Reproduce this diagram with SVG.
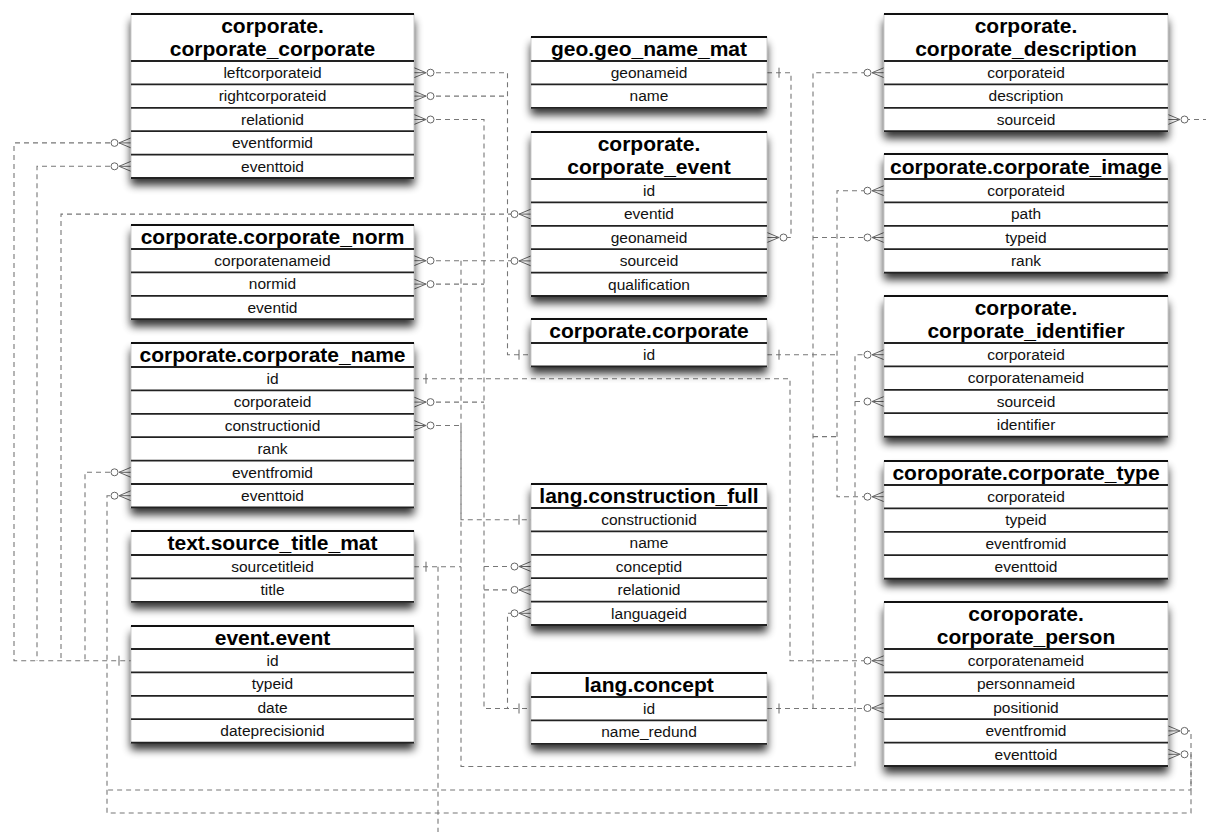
<svg xmlns="http://www.w3.org/2000/svg" xmlns:xlink="http://www.w3.org/1999/xlink" width="1206" height="832" viewBox="0 0 1206 832">
<style>
.box{fill:#fff;stroke:#aaa;stroke-width:0.6;filter:url(#sh)}
.sep{stroke:#222;stroke-width:1.8}
.top{stroke:#111;stroke-width:1.8}
.hd{font-family:"Liberation Sans",Arial,sans-serif;font-size:21px;font-weight:bold;fill:#000;text-anchor:middle}
.rw{font-family:"Liberation Sans",Arial,sans-serif;font-size:15.5px;fill:#111;text-anchor:middle}
.cn{fill:none;stroke:#777;stroke-width:1.1;stroke-dasharray:5 4}
.mk{fill:none;stroke:#666;stroke-width:1}
.ci{fill:#fff;stroke:#666;stroke-width:1}
</style>
<defs>
<filter id="sh" x="-10%" y="-20%" width="120%" height="170%">
<feGaussianBlur in="SourceAlpha" stdDeviation="4"/>
<feOffset dx="0" dy="7" result="b"/>
<feComponentTransfer><feFuncA type="linear" slope="0.8"/></feComponentTransfer>
<feMerge><feMergeNode/><feMergeNode in="SourceGraphic"/></feMerge>
</filter>
<g id="mL"><path class="mk" d="M-12,0 L0,-5 M-12,0 L0,0 M-12,0 L0,5"/><circle class="ci" cx="-16.5" cy="0" r="3.5"/></g>
<g id="mR"><path class="mk" d="M12,0 L0,-5 M12,0 L0,0 M12,0 L0,5"/><circle class="ci" cx="16.5" cy="0" r="3.5"/></g>
<g id="oL"><path class="mk" d="M-12,-5 V5"/></g>
<g id="oR"><path class="mk" d="M12,-5 V5"/></g>
</defs>
<rect width="1206" height="832" fill="#fff"/>

<g id="connectors">
<path class="cn" d="M436,72.7 H507.5 V354.7 H531"/>
<path class="cn" d="M436,96.1 H507.5"/>
<path class="cn" d="M436,119.5 H484 V708.5 H531"/>
<path class="cn" d="M110,142.9 H14 V660.7 H131"/>
<path class="cn" d="M110,166.3 H37 V660.7"/>
<path class="cn" d="M513,214.1 H61 V660.7"/>
<path class="cn" d="M436,260.8 H513"/>
<path class="cn" d="M436,284.1 H484"/>
<path class="cn" d="M414,378.7 H790 V660.7 H866"/>
<path class="cn" d="M436,402.1 H484"/>
<path class="cn" d="M436,425.5 H461 V519.7 H531"/>
<path class="cn" d="M110,472.3 H85 V660.7"/>
<path class="cn" d="M110,495.7 H107 V813 H1191 V754.3 H1185"/>
<path class="cn" d="M1185,730.9 H1191 V790 H107"/>
<path class="cn" d="M414,566.7 H461"/>
<path class="cn" d="M438,566.7 V832"/>
<path class="cn" d="M461,260.8 V766.5 H855 V354.7 H866"/>
<path class="cn" d="M855,401.5 H866"/>
<path class="cn" d="M484,566.5 H513"/>
<path class="cn" d="M484,589.9 H513"/>
<path class="cn" d="M513,613.3 H507.5 V708.5"/>
<path class="cn" d="M767,708.5 H866"/>
<path class="cn" d="M813,708.5 V72.7 H866"/>
<path class="cn" d="M813,237.5 H866"/>
<path class="cn" d="M813,436.6 H837"/>
<path class="cn" d="M767,72.7 H791 V237.5 H785"/>
<path class="cn" d="M767,354.7 H837"/>
<path class="cn" d="M866,190.7 H837 V496.7 H866"/>
<path class="cn" d="M1185,119.5 H1206"/>

<use href="#mL" x="131" y="142.9"/>
<use href="#mL" x="131" y="166.3"/>
<use href="#mL" x="531" y="214.1"/>
<use href="#mL" x="531" y="260.9"/>
<use href="#mL" x="131" y="472.3"/>
<use href="#mL" x="131" y="495.7"/>
<use href="#mL" x="531" y="566.5"/>
<use href="#mL" x="531" y="589.9"/>
<use href="#mL" x="531" y="613.3"/>
<use href="#mL" x="884" y="72.7"/>
<use href="#mL" x="884" y="190.7"/>
<use href="#mL" x="884" y="237.5"/>
<use href="#mL" x="884" y="354.7"/>
<use href="#mL" x="884" y="401.5"/>
<use href="#mL" x="884" y="496.7"/>
<use href="#mL" x="884" y="660.7"/>
<use href="#mL" x="884" y="708"/>

<use href="#mR" x="414" y="72.7"/>
<use href="#mR" x="414" y="96.1"/>
<use href="#mR" x="414" y="119.5"/>
<use href="#mR" x="414" y="260.7"/>
<use href="#mR" x="414" y="284.1"/>
<use href="#mR" x="414" y="402.1"/>
<use href="#mR" x="414" y="425.5"/>
<use href="#mR" x="767" y="237.5"/>
<use href="#mR" x="1168" y="119.5"/>
<use href="#mR" x="1168" y="730.9"/>
<use href="#mR" x="1168" y="754.3"/>

<use href="#oL" x="531" y="354.7"/>
<use href="#oL" x="531" y="519.7"/>
<use href="#oL" x="531" y="708.5"/>
<use href="#oL" x="131" y="660.7"/>
<use href="#oR" x="767" y="72.7"/>
<use href="#oR" x="767" y="354.7"/>
<use href="#oR" x="767" y="708.5"/>
<use href="#oR" x="414" y="378.7"/>
<use href="#oR" x="414" y="566.7"/>
</g>

<!-- LEFT COLUMN -->
<g id="corporate_corporate">
<rect class="box" x="131" y="14" width="283" height="164"/>
<line class="top" x1="131" y1="14" x2="414" y2="14"/>
<text class="hd" x="272.5" y="33">corporate.</text>
<text class="hd" x="272.5" y="56">corporate_corporate</text>
<line class="sep" x1="131" y1="61" x2="414" y2="61"/>
<text class="rw" x="272.5" y="78">leftcorporateid</text>
<line class="sep" x1="131" y1="84.4" x2="414" y2="84.4"/>
<text class="rw" x="272.5" y="101.4">rightcorporateid</text>
<line class="sep" x1="131" y1="107.8" x2="414" y2="107.8"/>
<text class="rw" x="272.5" y="124.8">relationid</text>
<line class="sep" x1="131" y1="131.2" x2="414" y2="131.2"/>
<text class="rw" x="272.5" y="148.2">eventformid</text>
<line class="sep" x1="131" y1="154.6" x2="414" y2="154.6"/>
<text class="rw" x="272.5" y="171.6">eventtoid</text>
<line class="sep" x1="131" y1="178" x2="414" y2="178"/>
</g>

<g id="corporate_norm">
<rect class="box" x="131" y="225" width="283" height="94.2"/>
<line class="top" x1="131" y1="225" x2="414" y2="225"/>
<text class="hd" x="272.5" y="244">corporate.corporate_norm</text>
<line class="sep" x1="131" y1="249" x2="414" y2="249"/>
<text class="rw" x="272.5" y="266">corporatenameid</text>
<line class="sep" x1="131" y1="272.4" x2="414" y2="272.4"/>
<text class="rw" x="272.5" y="289.4">normid</text>
<line class="sep" x1="131" y1="295.8" x2="414" y2="295.8"/>
<text class="rw" x="272.5" y="312.8">eventid</text>
<line class="sep" x1="131" y1="319.2" x2="414" y2="319.2"/>
</g>

<g id="corporate_name">
<rect class="box" x="131" y="343" width="283" height="164.4"/>
<line class="top" x1="131" y1="343" x2="414" y2="343"/>
<text class="hd" x="272.5" y="362">corporate.corporate_name</text>
<line class="sep" x1="131" y1="367" x2="414" y2="367"/>
<text class="rw" x="272.5" y="384">id</text>
<line class="sep" x1="131" y1="390.4" x2="414" y2="390.4"/>
<text class="rw" x="272.5" y="407.4">corporateid</text>
<line class="sep" x1="131" y1="413.8" x2="414" y2="413.8"/>
<text class="rw" x="272.5" y="430.8">constructionid</text>
<line class="sep" x1="131" y1="437.2" x2="414" y2="437.2"/>
<text class="rw" x="272.5" y="454.2">rank</text>
<line class="sep" x1="131" y1="460.6" x2="414" y2="460.6"/>
<text class="rw" x="272.5" y="477.6">eventfromid</text>
<line class="sep" x1="131" y1="484" x2="414" y2="484"/>
<text class="rw" x="272.5" y="501">eventtoid</text>
<line class="sep" x1="131" y1="507.4" x2="414" y2="507.4"/>
</g>

<g id="source_title_mat">
<rect class="box" x="131" y="531" width="283" height="70.8"/>
<line class="top" x1="131" y1="531" x2="414" y2="531"/>
<text class="hd" x="272.5" y="550">text.source_title_mat</text>
<line class="sep" x1="131" y1="555" x2="414" y2="555"/>
<text class="rw" x="272.5" y="572">sourcetitleid</text>
<line class="sep" x1="131" y1="578.4" x2="414" y2="578.4"/>
<text class="rw" x="272.5" y="595.4">title</text>
<line class="sep" x1="131" y1="601.8" x2="414" y2="601.8"/>
</g>

<g id="event_event">
<rect class="box" x="131" y="626" width="283" height="116.6"/>
<line class="top" x1="131" y1="626" x2="414" y2="626"/>
<text class="hd" x="272.5" y="644.5">event.event</text>
<line class="sep" x1="131" y1="649" x2="414" y2="649"/>
<text class="rw" x="272.5" y="666">id</text>
<line class="sep" x1="131" y1="672.4" x2="414" y2="672.4"/>
<text class="rw" x="272.5" y="689.4">typeid</text>
<line class="sep" x1="131" y1="695.8" x2="414" y2="695.8"/>
<text class="rw" x="272.5" y="712.8">date</text>
<line class="sep" x1="131" y1="719.2" x2="414" y2="719.2"/>
<text class="rw" x="272.5" y="736.2">dateprecisionid</text>
<line class="sep" x1="131" y1="742.6" x2="414" y2="742.6"/>
</g>

<!-- MIDDLE COLUMN -->
<g id="geo_name_mat">
<rect class="box" x="531" y="37" width="236" height="70.8"/>
<line class="top" x1="531" y1="37" x2="767" y2="37"/>
<text class="hd" x="649" y="56">geo.geo_name_mat</text>
<line class="sep" x1="531" y1="61" x2="767" y2="61"/>
<text class="rw" x="649" y="78">geonameid</text>
<line class="sep" x1="531" y1="84.4" x2="767" y2="84.4"/>
<text class="rw" x="649" y="101.4">name</text>
<line class="sep" x1="531" y1="107.8" x2="767" y2="107.8"/>
</g>

<g id="corporate_event">
<rect class="box" x="531" y="132" width="236" height="164"/>
<line class="top" x1="531" y1="132" x2="767" y2="132"/>
<text class="hd" x="649" y="151">corporate.</text>
<text class="hd" x="649" y="174">corporate_event</text>
<line class="sep" x1="531" y1="179" x2="767" y2="179"/>
<text class="rw" x="649" y="196">id</text>
<line class="sep" x1="531" y1="202.4" x2="767" y2="202.4"/>
<text class="rw" x="649" y="219.4">eventid</text>
<line class="sep" x1="531" y1="225.8" x2="767" y2="225.8"/>
<text class="rw" x="649" y="242.8">geonameid</text>
<line class="sep" x1="531" y1="249.2" x2="767" y2="249.2"/>
<text class="rw" x="649" y="266.2">sourceid</text>
<line class="sep" x1="531" y1="272.6" x2="767" y2="272.6"/>
<text class="rw" x="649" y="289.6">qualification</text>
<line class="sep" x1="531" y1="296" x2="767" y2="296"/>
</g>

<g id="corporate_corporate_tbl">
<rect class="box" x="531" y="319" width="236" height="47.4"/>
<line class="top" x1="531" y1="319" x2="767" y2="319"/>
<text class="hd" x="649" y="338">corporate.corporate</text>
<line class="sep" x1="531" y1="343" x2="767" y2="343"/>
<text class="rw" x="649" y="360">id</text>
<line class="sep" x1="531" y1="366.4" x2="767" y2="366.4"/>
</g>

<g id="construction_full">
<rect class="box" x="531" y="484" width="236" height="141"/>
<line class="top" x1="531" y1="484" x2="767" y2="484"/>
<text class="hd" x="649" y="503">lang.construction_full</text>
<line class="sep" x1="531" y1="508" x2="767" y2="508"/>
<text class="rw" x="649" y="525">constructionid</text>
<line class="sep" x1="531" y1="531.4" x2="767" y2="531.4"/>
<text class="rw" x="649" y="548.4">name</text>
<line class="sep" x1="531" y1="554.8" x2="767" y2="554.8"/>
<text class="rw" x="649" y="571.8">conceptid</text>
<line class="sep" x1="531" y1="578.2" x2="767" y2="578.2"/>
<text class="rw" x="649" y="595.2">relationid</text>
<line class="sep" x1="531" y1="601.6" x2="767" y2="601.6"/>
<text class="rw" x="649" y="618.6">languageid</text>
<line class="sep" x1="531" y1="625" x2="767" y2="625"/>
</g>

<g id="lang_concept">
<rect class="box" x="531" y="673" width="236" height="70.8"/>
<line class="top" x1="531" y1="673" x2="767" y2="673"/>
<text class="hd" x="649" y="692">lang.concept</text>
<line class="sep" x1="531" y1="697" x2="767" y2="697"/>
<text class="rw" x="649" y="714">id</text>
<line class="sep" x1="531" y1="720.4" x2="767" y2="720.4"/>
<text class="rw" x="649" y="737.4">name_redund</text>
<line class="sep" x1="531" y1="743.8" x2="767" y2="743.8"/>
</g>

<!-- RIGHT COLUMN -->
<g id="corporate_description">
<rect class="box" x="884" y="14" width="284" height="117.2"/>
<line class="top" x1="884" y1="14" x2="1168" y2="14"/>
<text class="hd" x="1026" y="33">corporate.</text>
<text class="hd" x="1026" y="56">corporate_description</text>
<line class="sep" x1="884" y1="61" x2="1168" y2="61"/>
<text class="rw" x="1026" y="78">corporateid</text>
<line class="sep" x1="884" y1="84.4" x2="1168" y2="84.4"/>
<text class="rw" x="1026" y="101.4">description</text>
<line class="sep" x1="884" y1="107.8" x2="1168" y2="107.8"/>
<text class="rw" x="1026" y="124.8">sourceid</text>
<line class="sep" x1="884" y1="131.2" x2="1168" y2="131.2"/>
</g>

<g id="corporate_image">
<rect class="box" x="884" y="154" width="284" height="118.6"/>
<line class="top" x1="884" y1="154" x2="1168" y2="154"/>
<text class="hd" x="1026" y="173.5">corporate.corporate_image</text>
<line class="sep" x1="884" y1="179" x2="1168" y2="179"/>
<text class="rw" x="1026" y="196">corporateid</text>
<line class="sep" x1="884" y1="202.4" x2="1168" y2="202.4"/>
<text class="rw" x="1026" y="219.4">path</text>
<line class="sep" x1="884" y1="225.8" x2="1168" y2="225.8"/>
<text class="rw" x="1026" y="242.8">typeid</text>
<line class="sep" x1="884" y1="249.2" x2="1168" y2="249.2"/>
<text class="rw" x="1026" y="266.2">rank</text>
<line class="sep" x1="884" y1="272.6" x2="1168" y2="272.6"/>
</g>

<g id="corporate_identifier">
<rect class="box" x="884" y="296" width="284" height="140.6"/>
<line class="top" x1="884" y1="296" x2="1168" y2="296"/>
<text class="hd" x="1026" y="315">corporate.</text>
<text class="hd" x="1026" y="338">corporate_identifier</text>
<line class="sep" x1="884" y1="343" x2="1168" y2="343"/>
<text class="rw" x="1026" y="360">corporateid</text>
<line class="sep" x1="884" y1="366.4" x2="1168" y2="366.4"/>
<text class="rw" x="1026" y="383.4">corporatenameid</text>
<line class="sep" x1="884" y1="389.8" x2="1168" y2="389.8"/>
<text class="rw" x="1026" y="406.8">sourceid</text>
<line class="sep" x1="884" y1="413.2" x2="1168" y2="413.2"/>
<text class="rw" x="1026" y="430.2">identifier</text>
<line class="sep" x1="884" y1="436.6" x2="1168" y2="436.6"/>
</g>

<g id="corporate_type">
<rect class="box" x="884" y="461" width="284" height="117.6"/>
<line class="top" x1="884" y1="461" x2="1168" y2="461"/>
<text class="hd" x="1026" y="480">coroporate.corporate_type</text>
<line class="sep" x1="884" y1="485" x2="1168" y2="485"/>
<text class="rw" x="1026" y="502">corporateid</text>
<line class="sep" x1="884" y1="508.4" x2="1168" y2="508.4"/>
<text class="rw" x="1026" y="525.4">typeid</text>
<line class="sep" x1="884" y1="531.8" x2="1168" y2="531.8"/>
<text class="rw" x="1026" y="548.8">eventfromid</text>
<line class="sep" x1="884" y1="555.2" x2="1168" y2="555.2"/>
<text class="rw" x="1026" y="572.2">eventtoid</text>
<line class="sep" x1="884" y1="578.6" x2="1168" y2="578.6"/>
</g>

<g id="corporate_person">
<rect class="box" x="884" y="602" width="284" height="164"/>
<line class="top" x1="884" y1="602" x2="1168" y2="602"/>
<text class="hd" x="1026" y="621">coroporate.</text>
<text class="hd" x="1026" y="644">corporate_person</text>
<line class="sep" x1="884" y1="649" x2="1168" y2="649"/>
<text class="rw" x="1026" y="666">corporatenameid</text>
<line class="sep" x1="884" y1="672.4" x2="1168" y2="672.4"/>
<text class="rw" x="1026" y="689.4">personnameid</text>
<line class="sep" x1="884" y1="695.8" x2="1168" y2="695.8"/>
<text class="rw" x="1026" y="712.8">positionid</text>
<line class="sep" x1="884" y1="719.2" x2="1168" y2="719.2"/>
<text class="rw" x="1026" y="736.2">eventfromid</text>
<line class="sep" x1="884" y1="742.6" x2="1168" y2="742.6"/>
<text class="rw" x="1026" y="759.6">eventtoid</text>
<line class="sep" x1="884" y1="766" x2="1168" y2="766"/>
</g>
</svg>
